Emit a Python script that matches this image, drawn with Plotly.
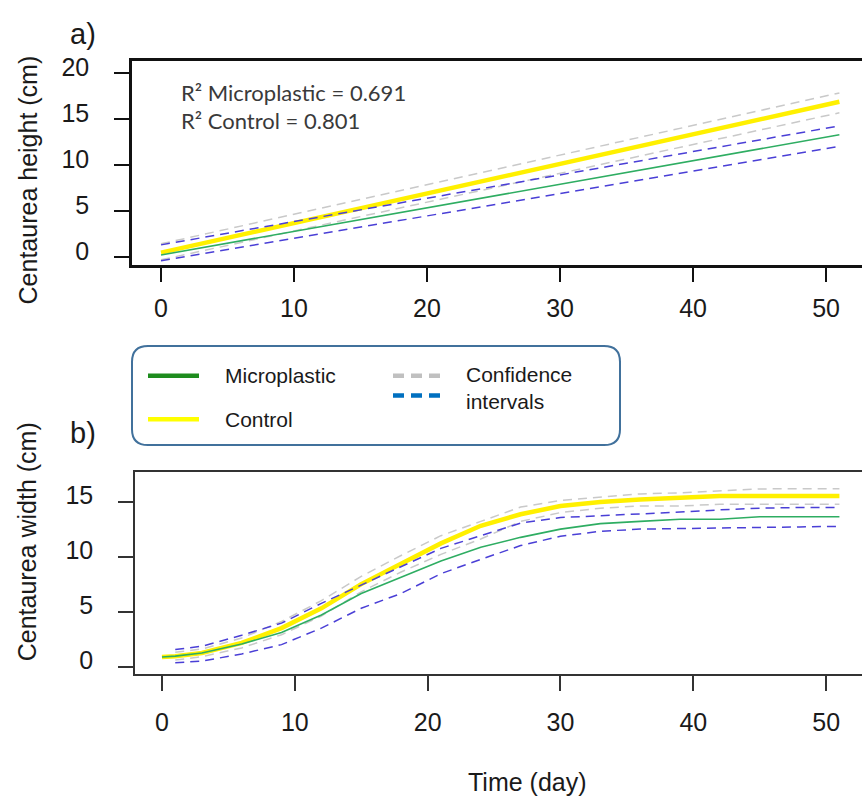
import plotly.graph_objects as go

W, H = 862, 798

# ---------------- Panel a) : linear fits of height (cm) ----------------
days_a = [0, 51]
ctrl_a = [0.45, 16.9]
micro_a = [0.2, 13.3]
ctrl_ci_up_a = [1.41, 17.87]
ctrl_ci_lo_a = [-0.33, 15.7]
micro_ci_up_a = [1.3, 14.27]
micro_ci_lo_a = [-0.43, 12.03]

# ---------------- Panel b) : width (cm) ----------------
days_b = [0, 1, 3, 6, 9, 12, 15, 18, 21, 24, 27, 30, 33, 36, 39, 42, 45, 48, 51]
ctrl_b = [0.88, 0.95, 1.24, 2.15, 3.5, 5.3, 7.5, 9.35, 11.2, 12.8, 13.85, 14.6, 14.97, 15.2, 15.35, 15.5, 15.5, 15.5, 15.5]
micro_b = [0.88, 0.95, 1.24, 2.05, 3.1, 4.7, 6.65, 8.15, 9.6, 10.85, 11.75, 12.5, 13.0, 13.2, 13.4, 13.4, 13.62, 13.62, 13.62]

days_ci_b = [1, 3, 6, 9, 12, 15, 18, 21, 24, 27, 30, 33, 36, 39, 42, 45, 48, 51]
micro_ci_up_b = [1.55, 1.85, 2.85, 3.95, 5.75, 7.4, 9.05, 10.75, 11.9, 13.05, 13.55, 13.7, 13.86, 14.05, 14.25, 14.4, 14.46, 14.46]
micro_ci_lo_b = [0.35, 0.5, 1.15, 2.0, 3.5, 5.3, 6.65, 8.45, 9.75, 11.0, 11.85, 12.3, 12.5, 12.57, 12.6, 12.65, 12.7, 12.75]
ctrl_ci_up_b = [1.3, 1.6, 2.6, 4.1, 6.0, 8.2, 10.1, 11.9, 13.2, 14.5, 15.1, 15.4, 15.7, 15.8, 15.95, 16.15, 16.17, 16.17]
ctrl_ci_lo_b = [0.6, 0.9, 1.7, 2.9, 4.6, 6.8, 8.6, 10.2, 11.6, 13.2, 14.0, 14.4, 14.6, 14.6, 14.76, 14.76, 14.76, 14.76]

x_ticks = [0, 10, 20, 30, 40, 50]
y_ticks_a = [0, 5, 10, 15, 20]
y_ticks_b = [0, 5, 10, 15]

r2_lines = ["R² Microplastic = 0.691", "R² Control = 0.801"]
legend_labels = ["Microplastic", "Control", "Confidence<br>intervals"]

C_YELLOW = "#FFF000"
C_GREEN = "#2EAD62"
C_BLUE = "#4A3FD6"
C_GRAY = "#C9C9C9"

fig = go.Figure()

def add_panel(xa, ya, days, ctrl, micro, days_ci, cu, cl, mu, ml):
    fig.add_trace(go.Scatter(x=days_ci, y=cu, mode="lines", xaxis=xa, yaxis=ya,
                             line=dict(color=C_GRAY, width=1.5, dash="9px,6px")))
    fig.add_trace(go.Scatter(x=days_ci, y=cl, mode="lines", xaxis=xa, yaxis=ya,
                             line=dict(color=C_GRAY, width=1.5, dash="9px,6px")))
    fig.add_trace(go.Scatter(x=days, y=ctrl, mode="lines", xaxis=xa, yaxis=ya,
                             line=dict(color=C_YELLOW, width=4.5)))
    fig.add_trace(go.Scatter(x=days, y=micro, mode="lines", xaxis=xa, yaxis=ya,
                             line=dict(color=C_GREEN, width=1.6)))
    fig.add_trace(go.Scatter(x=days_ci, y=mu, mode="lines", xaxis=xa, yaxis=ya,
                             line=dict(color=C_BLUE, width=1.5, dash="9px,6px")))
    fig.add_trace(go.Scatter(x=days_ci, y=ml, mode="lines", xaxis=xa, yaxis=ya,
                             line=dict(color=C_BLUE, width=1.5, dash="9px,6px")))

add_panel("x", "y", days_a, ctrl_a, micro_a, days_a,
          ctrl_ci_up_a, ctrl_ci_lo_a, micro_ci_up_a, micro_ci_lo_a)
add_panel("x2", "y2", days_b, ctrl_b, micro_b, days_ci_b,
          ctrl_ci_up_b, ctrl_ci_lo_b, micro_ci_up_b, micro_ci_lo_b)

def px(x):
    return x / W

def py(y):
    return 1 - y / H

tickfont = dict(family="Liberation Sans, Arial", size=25, color="#1a1a1a")

common_x = dict(tickvals=x_ticks, ticks="outside", ticklen=15, showgrid=False,
                zeroline=False, showline=True, mirror=True, tickfont=tickfont)
common_y = dict(ticks="outside", ticklen=15, showgrid=False, zeroline=False,
                showline=True, mirror=False, tickfont=tickfont,
                ticklabelstandoff=20, ticklabelshift=-6)

fig.update_layout(
    width=W, height=H,
    margin=dict(l=0, r=0, t=0, b=0),
    plot_bgcolor="white", paper_bgcolor="white",
    showlegend=False,
    xaxis=dict(domain=[px(132), 1], range=[-2.18, 52.7], anchor="y",
               linecolor="#111", linewidth=2.5, tickcolor="#111", tickwidth=2,
               ticklabelstandoff=5, **common_x),
    yaxis=dict(domain=[py(260), py(54)], range=[-0.865, 21.4], anchor="x",
               tickvals=y_ticks_a, linecolor="#111", linewidth=2.5, tickcolor="#111",
               tickwidth=2, **common_y),
    xaxis2=dict(domain=[px(135), 1], range=[-2.03, 52.7], anchor="y2",
                linecolor="#333", linewidth=1.6, tickcolor="#333", tickwidth=1.6,
                ticklabelstandoff=10, **common_x),
    yaxis2=dict(domain=[py(673), py(469)], range=[-0.68, 17.7], anchor="x2",
                tickvals=y_ticks_b, linecolor="#333", linewidth=1.6, tickcolor="#333",
                tickwidth=1.6, **common_y),
)

ann_font = dict(family="Liberation Sans, Arial", size=25, color="#1a1a1a")
annotations = [
    dict(text="Centaurea height (cm)", x=px(28), y=py(175), textangle=-90, font=ann_font),
    dict(text="Centaurea width (cm)", x=px(27), y=py(540), textangle=-90, font=ann_font),
    dict(text="Time (day)", x=px(527), y=py(782), font=ann_font),
    dict(text="a)", x=px(83), y=py(27), font=dict(family="Liberation Sans, Arial", size=29, color="#1a1a1a")),
    dict(text="b)", x=px(83), y=py(430), font=dict(family="Liberation Sans, Arial", size=29, color="#1a1a1a")),
    dict(text=r2_lines[0], x=px(179), y=py(86), xanchor="left",
         font=dict(family="Lato, Open Sans", size=22, color="#3a3a3a")),
    dict(text=r2_lines[1], x=px(179), y=py(115), xanchor="left",
         font=dict(family="Lato, Open Sans", size=22, color="#3a3a3a")),
]
leg_font = dict(family="Liberation Sans, Arial", size=21, color="#1a1a1a")
annotations += [
    dict(text=legend_labels[0], x=px(223), y=py(372), xanchor="left", font=leg_font),
    dict(text=legend_labels[1], x=px(223), y=py(416), xanchor="left", font=leg_font),
    dict(text=legend_labels[2], x=px(464), y=py(384), xanchor="left", align="left", font=leg_font),
]
for a in annotations:
    a.update(xref="paper", yref="paper", showarrow=False)
    a.setdefault("xanchor", "center")
    a.setdefault("yanchor", "middle")
fig.update_layout(annotations=annotations)

# custom legend box (rounded rectangle)
L, R, T, B, rad = 132, 620, 342, 442, 16
path = (f"M {px(L+rad)},{py(T)} L {px(R-rad)},{py(T)} Q {px(R)},{py(T)} {px(R)},{py(T+rad)} "
        f"L {px(R)},{py(B-rad)} Q {px(R)},{py(B)} {px(R-rad)},{py(B)} "
        f"L {px(L+rad)},{py(B)} Q {px(L)},{py(B)} {px(L)},{py(B-rad)} "
        f"L {px(L)},{py(T+rad)} Q {px(L)},{py(T)} {px(L+rad)},{py(T)} Z")
shapes = [dict(type="path", path=path, xref="paper", yref="paper",
               line=dict(color="#41719C", width=2), fillcolor="rgba(0,0,0,0)")]
leg_lines = [
    (148, 199, 372, "#1E8C1E", "solid"),
    (148, 199, 416, "#FFFF00", "solid"),
    (393, 443, 372, "#C0C0C0", "dash"),
    (393, 443, 392, "#0070C0", "dash"),
]
for x0, x1, yy, col, dash in leg_lines:
    shapes.append(dict(type="line", xref="paper", yref="paper",
                       x0=px(x0), x1=px(x1), y0=py(yy), y1=py(yy),
                       line=dict(color=col, width=4.5,
                                 dash="11px,7px" if dash == "dash" else "solid")))
fig.update_layout(shapes=shapes)

fig.write_html("out.html", config={"displayModeBar": False},
               post_script="document.body.style.margin='0';document.body.style.padding='0';")
